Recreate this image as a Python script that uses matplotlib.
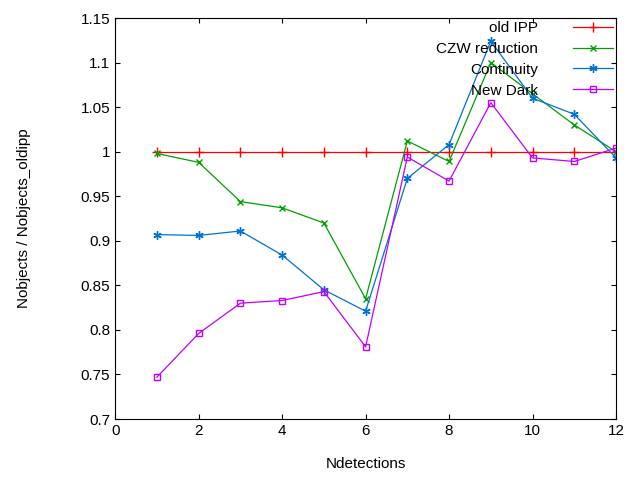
import matplotlib
matplotlib.use("Agg")
import matplotlib.pyplot as plt

plt.rcParams['font.family'] = ['Liberation Sans', 'DejaVu Sans']

x = list(range(1, 13))
old_ipp = [1.0]*12
czw = [0.998, 0.988, 0.944, 0.937, 0.920, 0.835, 1.012, 0.989, 1.100, 1.065, 1.030, 1.000]
cont = [0.907, 0.906, 0.911, 0.884, 0.845, 0.821, 0.970, 1.008, 1.124, 1.060, 1.042, 0.993]
dark = [0.747, 0.796, 0.830, 0.833, 0.843, 0.781, 0.994, 0.967, 1.055, 0.993, 0.989, 1.004]

fig = plt.figure(figsize=(6.4, 4.8), dpi=100)
ax = fig.add_axes([0.18, 0.127, 0.7825, 0.8355])
lw = 0.9
ax.plot(x, old_ipp, color='#ff0000', marker='+', ms=7, lw=lw, label='old IPP')
ax.plot(x, czw, color='#00a000', marker='x', ms=5, lw=lw, label='CZW reduction')
ax.plot(x, cont, color='#0072d0', marker=(6, 2, 0), ms=6, lw=lw, label='Continuity')
ax.plot(x, dark, color='#c000ff', marker='s', ms=5, mfc='none', lw=lw, label='New Dark')
ax.set_xlim(0, 12)
ax.set_ylim(0.7, 1.15)
ax.set_xticks(range(0, 13, 2))
ax.set_yticks([0.7, 0.75, 0.8, 0.85, 0.9, 0.95, 1.0, 1.05, 1.1, 1.15])
ax.set_yticklabels(['0.7', '0.75', '0.8', '0.85', '0.9', '0.95', '1', '1.05', '1.1', '1.15'])
ax.tick_params(direction='in', top=True, right=True, labelsize=11)
ax.set_xlabel('Ndetections', fontsize=11, labelpad=14)
ax.set_ylabel('Nobjects / Nobjects_oldipp', fontsize=11, labelpad=36)
ax.legend(loc='upper right', frameon=False, markerfirst=False, fontsize=11,
          handlelength=2.6, handletextpad=2.3, labelspacing=0.45,
          borderaxespad=0.2, borderpad=0.0)
fig.savefig('out.png')
